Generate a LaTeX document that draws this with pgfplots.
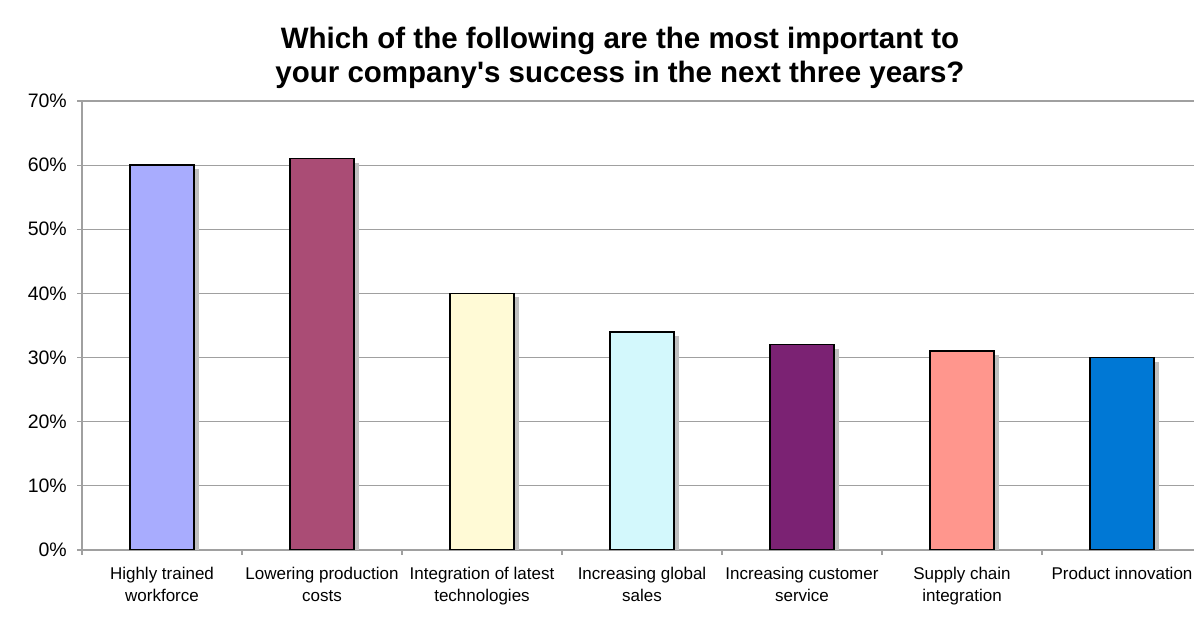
\documentclass[border=0pt]{standalone}
\usepackage{pgfplots}
\pgfplotsset{compat=1.18}
\usepackage{fontspec}
\setmainfont{Liberation Sans}
\usetikzlibrary{shadows}
\definecolor{cA}{HTML}{A8ACFE}
\definecolor{cB}{HTML}{AA4C75}
\definecolor{cC}{HTML}{FFFAD6}
\definecolor{cD}{HTML}{D3F8FC}
\definecolor{cE}{HTML}{7B2273}
\definecolor{cF}{HTML}{FF968D}
\definecolor{cG}{HTML}{0078D5}
\definecolor{gridc}{HTML}{A0A0A0}
\definecolor{shad}{HTML}{C0C0C0}
\begin{document}
\begin{tikzpicture}[x=1pt,y=1pt]
\useasboundingbox (0,0) rectangle (1194,623);
\node[font=\bfseries\fontsize{29.5}{34}\selectfont, align=center, inner sep=0pt] at (620,565.5)
  {Which of the following are the most important to\\your company\textquotesingle s success in the next three years?};
\begin{axis}[
  at={(82pt,73pt)}, anchor=south west,
  scale only axis, width=1112pt, height=449pt,
  xmin=-0.5, xmax=6.45, ymin=0, ymax=70,
  axis x line=bottom, axis y line=left,
  axis line style={-, draw=gridc, line width=1.2pt},
  ymajorgrids, grid style={draw=gridc, line width=1.1pt},
  ytick={0,10,...,70},
  yticklabels={0\%,10\%,20\%,30\%,40\%,50\%,60\%,70\%},
  xtick={-0.5,0.5,1.5,2.5,3.5,4.5,5.5},
  xticklabels={Highly trained\\workforce, Lowering production\\costs, Integration of latest\\technologies, Increasing global\\sales, Increasing customer\\service, Supply chain\\integration, Product innovation},
  xticklabel style={xshift=80pt, align=center, font=\fontsize{17}{22}\selectfont, inner sep=0pt, yshift=-12pt},
  yticklabel style={font=\fontsize{19.5}{22}\selectfont, inner sep=0pt, xshift=-10pt},
  tick align=outside, major tick length=5pt,
  tick style={draw=gridc, line width=1.2pt},
  ybar, bar width=64pt, bar shift=0pt,
  every axis plot/.append style={draw=black, line width=1.5pt, drop shadow={shadow xshift=4.5pt, shadow yshift=-4pt, fill=shad, draw=none, opacity=1}},
]
\addplot[fill=cA] coordinates {(0,60)};
\addplot[fill=cB] coordinates {(1,61)};
\addplot[fill=cC] coordinates {(2,40)};
\addplot[fill=cD] coordinates {(3,34)};
\addplot[fill=cE] coordinates {(4,32)};
\addplot[fill=cF] coordinates {(5,31)};
\addplot[fill=cG] coordinates {(6,30)};
\end{axis}
\end{tikzpicture}
\end{document}
